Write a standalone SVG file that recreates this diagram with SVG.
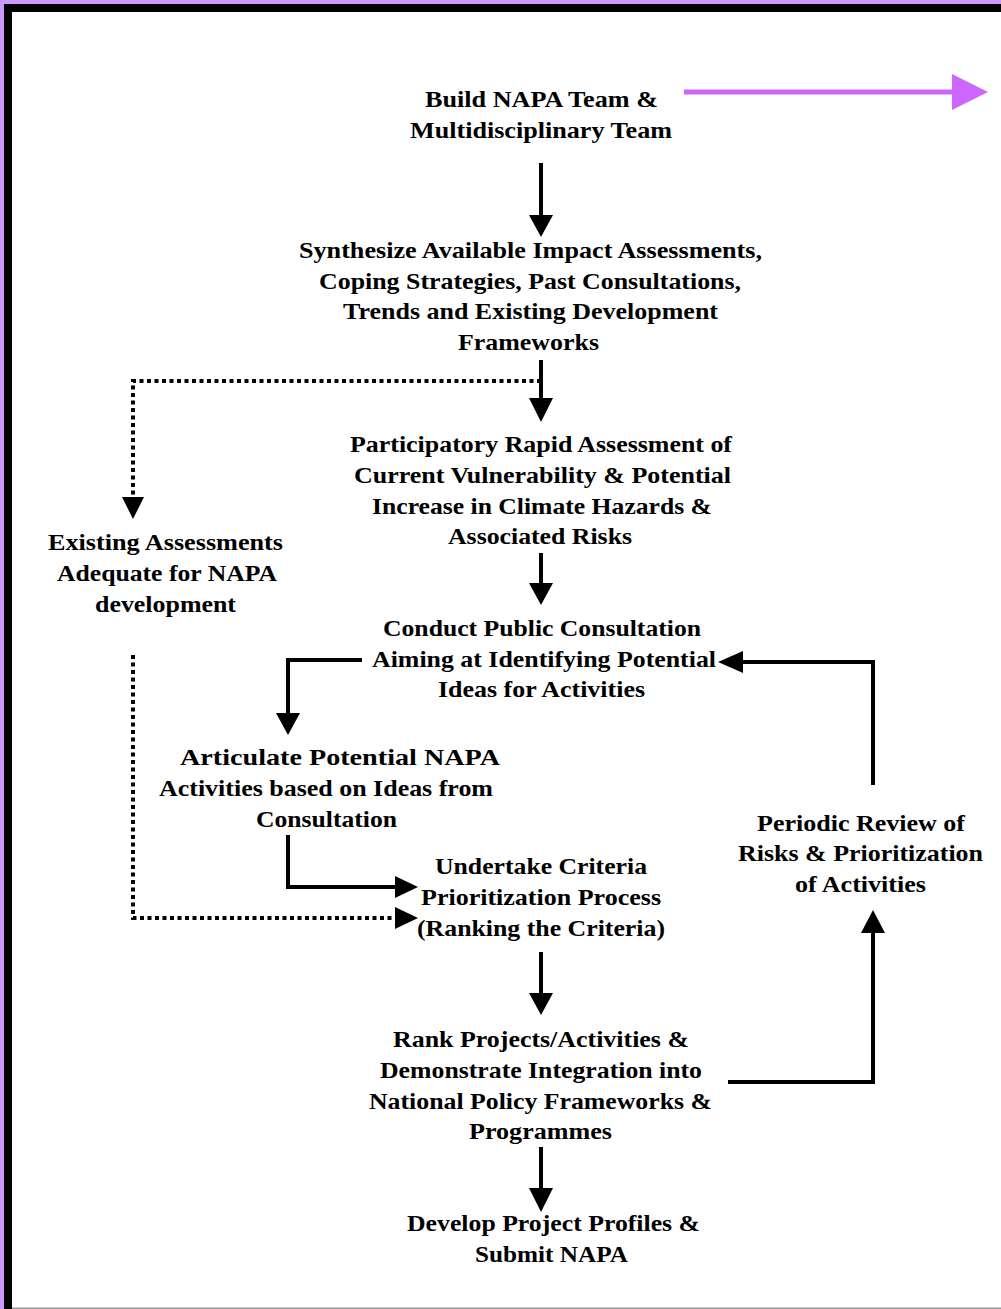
<svg xmlns="http://www.w3.org/2000/svg" width="1001" height="1309" viewBox="0 0 1001 1309">
<style>
text{font-family:"Liberation Serif","Times New Roman",serif;font-weight:bold;font-size:24px;fill:#000;text-anchor:middle}
.ln{fill:none;stroke:#000;stroke-width:4}
.dot{fill:none;stroke:#000;stroke-width:4;stroke-dasharray:4 3.5}
.hd{fill:#000}
</style>
<rect x="0" y="0" width="1001" height="1309" fill="#fff"/>
<rect x="0" y="0" width="1001" height="4" fill="#cc99ff"/>
<rect x="0" y="0" width="4" height="1309" fill="#cc99ff"/>
<rect x="4" y="4" width="997" height="8" fill="#000"/>
<rect x="4" y="4" width="8" height="1305" fill="#000"/>
<rect x="12" y="1307.5" width="989" height="1.5" fill="#999"/>
<g id="connectors">
<line x1="684" y1="92" x2="954" y2="92" stroke="#cc66ff" stroke-width="5"/>
<polygon points="952,74 988,92 952,110" fill="#cc66ff"/>
<line class="ln" x1="541" y1="163" x2="541" y2="217"/>
<polygon class="hd" points="529,215 553,215 541,237"/>
<line class="ln" x1="541" y1="360" x2="541" y2="400"/>
<polygon class="hd" points="529,398 553,398 541,422"/>
<polyline class="dot" points="541,381 133,381 133,495"/>
<polygon class="hd" points="122,497 144,497 133,519"/>
<line class="ln" x1="541" y1="553" x2="541" y2="585"/>
<polygon class="hd" points="529,583 553,583 541,605"/>
<polyline class="ln" points="362,660 288,660 288,715"/>
<polygon class="hd" points="276,713 300,713 288,735"/>
<polyline class="ln" points="873,785 873,662 741,662"/>
<polygon class="hd" points="743,651 743,673 718,662"/>
<polyline class="ln" points="288,835 288,887 397,887"/>
<polygon class="hd" points="395,876 395,898 418,887"/>
<polyline class="dot" points="133,655 133,918 397,918"/>
<polygon class="hd" points="395,907 395,929 418,918"/>
<line class="ln" x1="541" y1="952" x2="541" y2="995"/>
<polygon class="hd" points="529,993 553,993 541,1015"/>
<polyline class="ln" points="728,1082 873,1082 873,931"/>
<polygon class="hd" points="861,933 885,933 873,910"/>
<line class="ln" x1="541" y1="1147" x2="541" y2="1190"/>
<polygon class="hd" points="529,1188 553,1188 541,1212"/>
</g>
<g id="n1">
<text x="541.5" y="107" textLength="233" lengthAdjust="spacingAndGlyphs">Build NAPA Team &amp;</text>
<text x="541" y="138" textLength="262" lengthAdjust="spacingAndGlyphs">Multidisciplinary Team</text>
</g>
<g id="n2">
<text x="530.5" y="258" textLength="463" lengthAdjust="spacingAndGlyphs">Synthesize Available Impact Assessments,</text>
<text x="530" y="289" textLength="422" lengthAdjust="spacingAndGlyphs">Coping Strategies, Past Consultations,</text>
<text x="530.5" y="319" textLength="375" lengthAdjust="spacingAndGlyphs">Trends and Existing Development</text>
<text x="528.5" y="350" textLength="141" lengthAdjust="spacingAndGlyphs">Frameworks</text>
</g>
<g id="n3">
<text x="541" y="452" textLength="382" lengthAdjust="spacingAndGlyphs">Participatory Rapid Assessment of</text>
<text x="542.5" y="483" textLength="377" lengthAdjust="spacingAndGlyphs">Current Vulnerability &amp; Potential</text>
<text x="542" y="514" textLength="340" lengthAdjust="spacingAndGlyphs">Increase in Climate Hazards &amp;</text>
<text x="540" y="544" textLength="184" lengthAdjust="spacingAndGlyphs">Associated Risks</text>
</g>
<g id="n4">
<text x="165.5" y="550" textLength="235" lengthAdjust="spacingAndGlyphs">Existing Assessments</text>
<text x="167" y="581" textLength="220" lengthAdjust="spacingAndGlyphs">Adequate for NAPA</text>
<text x="165.5" y="612" textLength="141" lengthAdjust="spacingAndGlyphs">development</text>
</g>
<g id="n5">
<text x="542" y="636" textLength="318" lengthAdjust="spacingAndGlyphs">Conduct Public Consultation</text>
<text x="544" y="667" textLength="344" lengthAdjust="spacingAndGlyphs">Aiming at Identifying Potential</text>
<text x="541.5" y="697" textLength="207" lengthAdjust="spacingAndGlyphs">Ideas for Activities</text>
</g>
<g id="n6">
<text x="340" y="765" textLength="320" lengthAdjust="spacingAndGlyphs">Articulate Potential NAPA</text>
<text x="326" y="796" textLength="334" lengthAdjust="spacingAndGlyphs">Activities based on Ideas from</text>
<text x="326.5" y="827" textLength="141" lengthAdjust="spacingAndGlyphs">Consultation</text>
</g>
<g id="n7">
<text x="541" y="874" textLength="212" lengthAdjust="spacingAndGlyphs">Undertake Criteria</text>
<text x="541" y="905" textLength="240" lengthAdjust="spacingAndGlyphs">Prioritization Process</text>
<text x="541" y="936" textLength="248" lengthAdjust="spacingAndGlyphs">(Ranking the Criteria)</text>
</g>
<g id="n8">
<text x="861" y="831" textLength="208" lengthAdjust="spacingAndGlyphs">Periodic Review of</text>
<text x="860.5" y="861" textLength="245" lengthAdjust="spacingAndGlyphs">Risks &amp; Prioritization</text>
<text x="860.5" y="892" textLength="131" lengthAdjust="spacingAndGlyphs">of Activities</text>
</g>
<g id="n9">
<text x="541" y="1047" textLength="296" lengthAdjust="spacingAndGlyphs">Rank Projects/Activities &amp;</text>
<text x="541" y="1078" textLength="322" lengthAdjust="spacingAndGlyphs">Demonstrate Integration into</text>
<text x="540.5" y="1109" textLength="343" lengthAdjust="spacingAndGlyphs">National Policy Frameworks &amp;</text>
<text x="540.5" y="1139" textLength="143" lengthAdjust="spacingAndGlyphs">Programmes</text>
</g>
<g id="n10">
<text x="553.5" y="1231" textLength="293" lengthAdjust="spacingAndGlyphs">Develop Project Profiles &amp;</text>
<text x="551.5" y="1262" textLength="153" lengthAdjust="spacingAndGlyphs">Submit NAPA</text>
</g>
</svg>
